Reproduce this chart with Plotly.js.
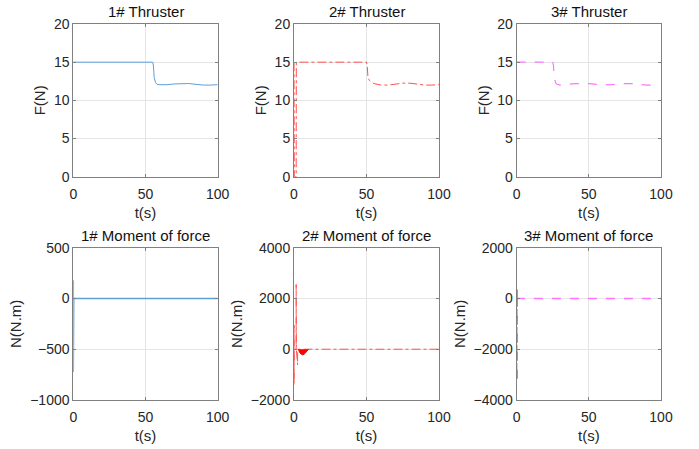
<!DOCTYPE html>
<html><head><meta charset="utf-8">
<script src="https://cdn.plot.ly/plotly-3.0.1.min.js"></script>
<style>html,body{margin:0;padding:0;background:#fff}#plot{width:699px;height:449px}</style>
</head><body><div id="plot"></div>
<script>
// ---- data ----
const t1 = [0, 55, 55.5, 56, 57, 58, 60, 65, 70, 75, 80, 85, 90, 95, 100];
const f1 = [15, 15, 14.5, 13, 12.3, 12.1, 12.05, 12.05, 12.15, 12.2, 12.2, 12.1, 12.0, 12.0, 12.05];

const t2 = [0, 0.2, 1.5, 1.6, 50, 50.5, 51, 52, 55, 60, 65, 70, 75, 80, 85, 90, 95, 100];
const f2 = [15, 0, 0, 15, 15, 14.6, 13, 12.6, 12.2, 12.0, 12.0, 12.15, 12.25, 12.25, 12.1, 12.0, 12.0, 12.05];

const t3 = [0, 25, 25.5, 26, 27, 28, 30, 35, 40, 50, 60, 70, 75, 80, 90, 97];
const f3 = [15, 15, 14.5, 13, 12.3, 12.1, 12.0, 12.1, 12.2, 12.2, 12.0, 12.1, 12.2, 12.2, 12.0, 12.0];

const tm1 = [0, 0, 0, 0.3, 1, 20, 40, 60, 100];
const m1 = [0, 180, -725, 0, 0, 0, -5, 0, 0];

const tm2 = [0, 0, 0, 0.2, 1.5, 1.5, 1.6, 2.5, 2.5, 3, 100];
const m2 = [0, 950, -1400, 0, 0, 2550, 0, -620, 0, 0, 0];
const tm2dip = [3, 4, 5, 6, 7, 8, 9, 10];
const m2dip = [0, -140, -200, -220, -200, -140, -60, 0];

const tm3 = [0, 0, 0, 0.3, 100];
const m3 = [0, 370, -3200, 0, 0];

const titles = ["1# Thruster", "2# Thruster", "3# Thruster",
                "1# Moment of force", "2# Moment of force", "3# Moment of force"];
const xTicks = [0, 50, 100];
const yTicksF = [0, 5, 10, 15, 20];
const yTicksM1 = [-1000, -500, 0, 500];
const yTicksM2 = [-2000, 0, 2000, 4000];
const yTicksM3 = [-4000, -2000, 0, 2000];

// ---- layout ----
const W = 699, H = 449;
const cols = [[73.3, 217.7], [294, 439], [516.7, 661]];
const rows = [[24, 176.7], [247.7, 400]];
const font = "Liberation Sans, Arial, sans-serif";
const blue = "#5d9fdb", red = "rgb(255,80,80)", mag = "rgb(255,115,255)";

function xd(c){return [cols[c][0]/W, cols[c][1]/W];}
function yd(r){return [1-rows[r][1]/H, 1-rows[r][0]/H];}

const layout = {
  width: W, height: H, margin:{l:0,r:0,t:0,b:0},
  paper_bgcolor:"#fff", plot_bgcolor:"#fff", showlegend:false,
  font:{family:font, size:14, color:"#262626"},
  annotations: []
};
const ranges = [[0,20],[0,20],[0,20],[-1000,500],[-2000,4000],[-4000,2000]];
const yt = [yTicksF, yTicksF, yTicksF, yTicksM1, yTicksM2, yTicksM3];
const ylab = ["F(N)","F(N)","F(N)","N(N.m)","N(N.m)","N(N.m)"];
for (let i=0;i<6;i++){
  const r = Math.floor(i/3), c = i%3, s = i===0 ? "" : String(i+1);
  const ax = {
    domain: xd(c), range:[0,100], tickvals:xTicks, anchor:"y"+s,
    showline:true, mirror:"ticks", linecolor:"#808080", linewidth:1,
    ticks:"inside", ticklen:3, tickcolor:"#808080",
    showgrid:true, gridcolor:"#e5e5e5", zeroline:false,
    tickfont:{size:14, color:"#262626"}, ticklabelstandoff:4,
    title:{text:"t(s)", font:{size:15, color:"#262626"}, standoff:6}
  };
  const ay = {
    domain: yd(r), range: ranges[i], tickvals: yt[i], anchor:"x"+s,
    showline:true, mirror:"ticks", linecolor:"#808080", linewidth:1,
    ticks:"inside", ticklen:3, tickcolor:"#808080",
    showgrid:true, gridcolor:"#e5e5e5", zeroline:false,
    tickfont:{size:14, color:"#262626"},
    title:{text: ylab[i], font:{size:15, color:"#262626"}, standoff: 4}
  };
  layout["xaxis"+s] = ax;
  layout["yaxis"+s] = ay;
  layout.annotations.push({
    text: titles[i], xref:"paper", yref:"paper",
    x: (cols[c][0]+cols[c][1])/2/W, y: 1-(rows[r][0]-2)/H,
    xanchor:"center", yanchor:"bottom", showarrow:false,
    font:{size:15, color:"#111"}
  });
}

const traces = [
  {x:t1, y:f1, xaxis:"x", yaxis:"y", mode:"lines", line:{color:blue, width:1}},
  {x:t2, y:f2, xaxis:"x2", yaxis:"y2", mode:"lines", line:{color:red, width:1, dash:"dashdot"}},
  {x:t3, y:f3, xaxis:"x3", yaxis:"y3", mode:"lines", line:{color:mag, width:1.2, dash:"dash"}},
  {x:tm1, y:m1, xaxis:"x4", yaxis:"y4", mode:"lines", line:{color:blue, width:1.5}},
  {x:tm2, y:m2, xaxis:"x5", yaxis:"y5", mode:"lines", line:{color:red, width:1, dash:"dashdot"}},
  {x:tm2dip, y:m2dip, xaxis:"x5", yaxis:"y5", mode:"lines", fill:"tozeroy", fillcolor:"red", line:{color:"red", width:1}},
  {x:tm3, y:m3, xaxis:"x6", yaxis:"y6", mode:"lines", line:{color:mag, width:1.5, dash:"dash"}},
  {x:[tm3[0],tm3[1],tm3[2]], y:[m3[0],m3[1],m3[2]], xaxis:"x6", yaxis:"y6", mode:"lines", line:{color:"rgb(200,0,200)", width:1.5, dash:"dash"}}
];

Plotly.newPlot("plot", traces, layout, {staticPlot:true, displayModeBar:false});
</script>
</body></html>
